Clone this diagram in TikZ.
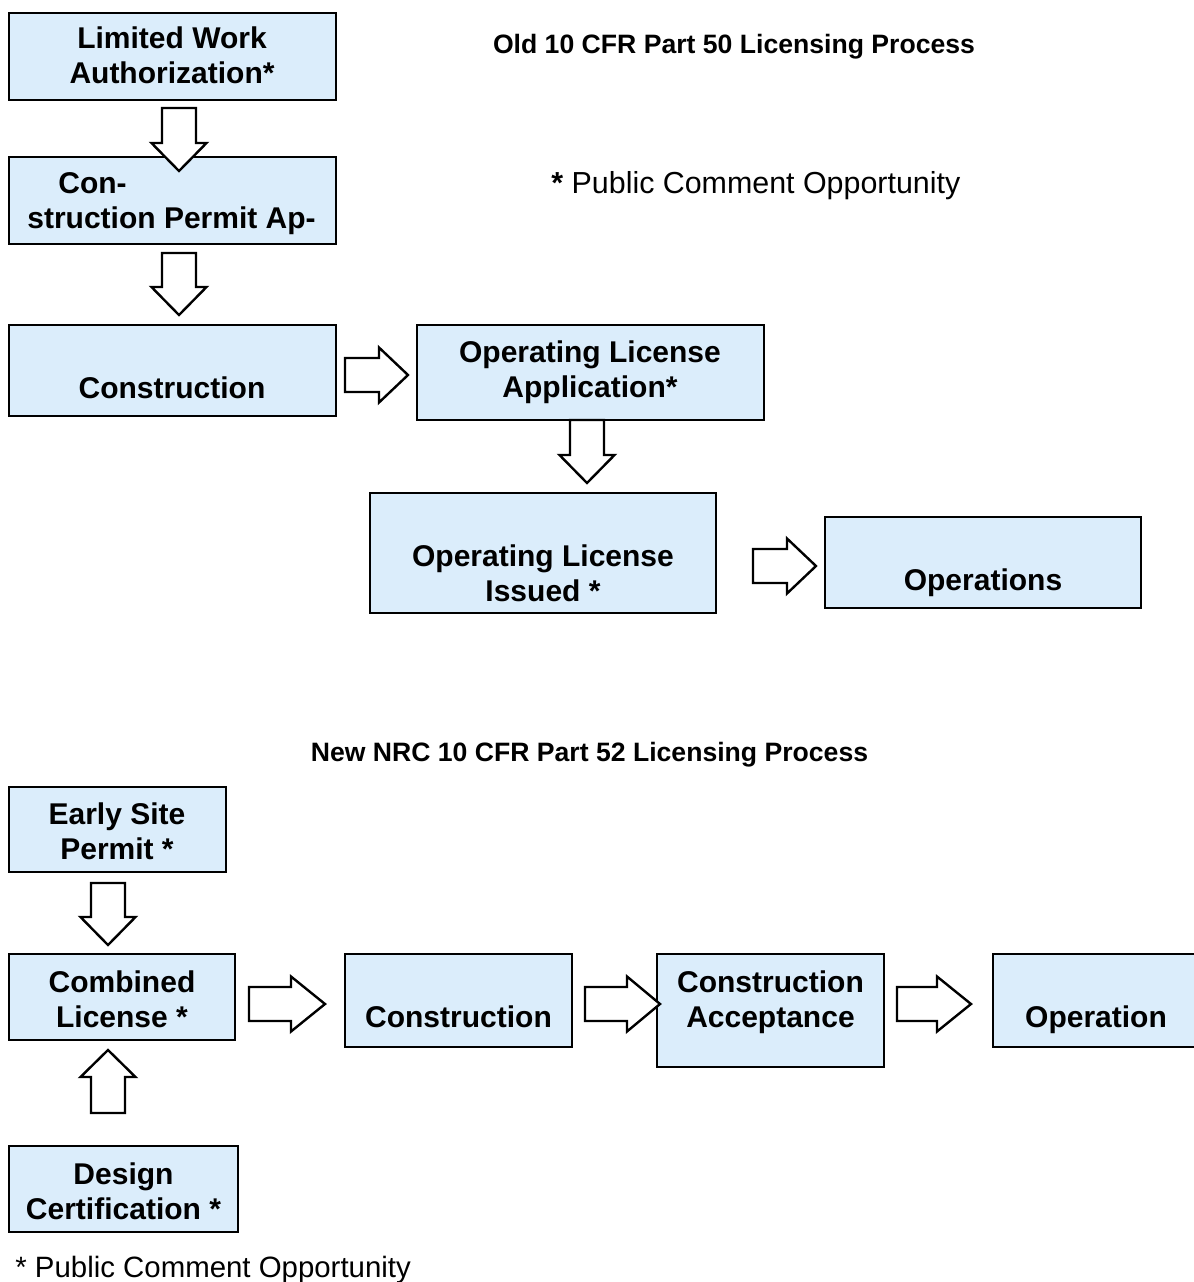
\documentclass[tikz,border=0pt]{standalone}
\usepackage{fontspec}
\setmainfont{Liberation Sans}
\usetikzlibrary{fit}
\definecolor{boxblue}{RGB}{219,237,251}
\newcommand\barr[6]{% name, x, y, rotation, length, head length
  \draw[blockarrow, shift={(#2,#3)}, rotate=#4] (0,-17) -- ({#5-#6},-17) -- ({#5-#6},-27.5) -- (#5,0) -- ({#5-#6},27.5) -- ({#5-#6},17) -- (0,17) -- cycle;
  \coordinate (#1) at (#2,#3);}
\begin{document}
\begin{tikzpicture}[x=0.5pt,y=-0.5pt,
  box/.style={draw=black, line width=1.4pt, fill=boxblue, inner sep=0pt},
  lbl/.style={font=\bfseries\fontsize{15}{17.5}\selectfont, inner sep=0pt, anchor=base},
  ttl/.style={font=\bfseries\fontsize{13.3}{16}\selectfont, inner sep=0pt, anchor=base},
  note/.style={font=\fontsize{15.2}{18}\selectfont, inner sep=0pt, anchor=base west},
  blockarrow/.style={draw=black, line width=1.2pt, fill=white, miter limit=10}]
\useasboundingbox (0,0) rectangle (1194,1282);

% ---------- old process ----------
\node[box, fit={(9,13) (336,100)}] (lwa) {};
\node[box, fit={(9,157) (336,244)}] (cpa) {};
\node[box, fit={(9,325) (336,416)}] (con1) {};
\node[box, fit={(417,325) (764,420)}] (ola) {};
\node[box, fit={(370,493) (716,613)}] (oli) {};
\node[box, fit={(825,517) (1141,608)}] (ops) {};

\node[lbl] (lwa-a) at (172,48) {Limited Work};
\node[lbl] (lwa-b) at (172,83) {Authorization*};
\node[lbl, anchor=base west] (cpa-a) at (58,193) {Con-};
\node[lbl, anchor=base west] (cpa-b) at (27,228) {struction Permit Ap-};
\node[lbl] (con1-a) at (172,398) {Construction};
\node[lbl] (ola-a) at (590,362) {Operating License};
\node[lbl] (ola-b) at (590,397) {Application*};
\node[lbl] (oli-a) at (543,566) {Operating License};
\node[lbl] (oli-b) at (543,601) {Issued *};
\node[lbl] (ops-a) at (983,590) {Operations};

\node[ttl] (title1) at (734,53.5) {Old 10 CFR Part 50 Licensing Process};
\node[note] (pco1) at (551,193) {\textbf{*} Public Comment Opportunity};

\barr{a1}{179}{108}{-90}{63}{28}
\barr{a2}{179}{253}{-90}{62}{28}
\barr{a3}{345}{375}{0}{63}{29}
\barr{a4}{587}{420}{-90}{63}{28}
\barr{a5}{753}{566}{0}{63}{29}

% ---------- new process ----------
\node[ttl] (title2) at (589.5,761.5) {New NRC 10 CFR Part 52 Licensing Process};

\node[box, fit={(9,787) (226,872)}] (esp) {};
\node[box, fit={(9,954) (235,1040)}] (col) {};
\node[box, fit={(9,1146) (238,1232)}] (dc) {};
\node[box, fit={(345,954) (572,1047)}] (con2) {};
\node[box, fit={(657,954) (884,1067)}] (ca) {};
\node[box, fit={(993,954) (1200,1047)}] (op) {};

\node[lbl] (esp-a) at (117,824) {Early Site};
\node[lbl] (esp-b) at (117,859) {Permit *};
\node[lbl] (col-a) at (122,992) {Combined};
\node[lbl] (col-b) at (122,1027) {License *};
\node[lbl] (dc-a) at (123.5,1184) {Design};
\node[lbl] (dc-b) at (123.5,1219) {Certification *};
\node[lbl] (con2-a) at (458.5,1027) {Construction};
\node[lbl] (ca-a) at (770.5,992) {Construction};
\node[lbl] (ca-b) at (770.5,1027) {Acceptance};
\node[lbl] (op-a) at (1096,1027) {Operation};

\node[note, font=\fontsize{14.7}{18}\selectfont] (pco2) at (15,1277) {* Public Comment Opportunity};

\barr{b1}{108}{883}{-90}{62}{28}
\barr{b2}{108}{1113}{90}{63}{27}
\barr{b3}{249}{1004}{0}{76}{34}
\barr{b4}{585}{1004}{0}{75}{33}
\barr{b5}{897}{1004}{0}{74}{34}
\end{tikzpicture}
\end{document}
